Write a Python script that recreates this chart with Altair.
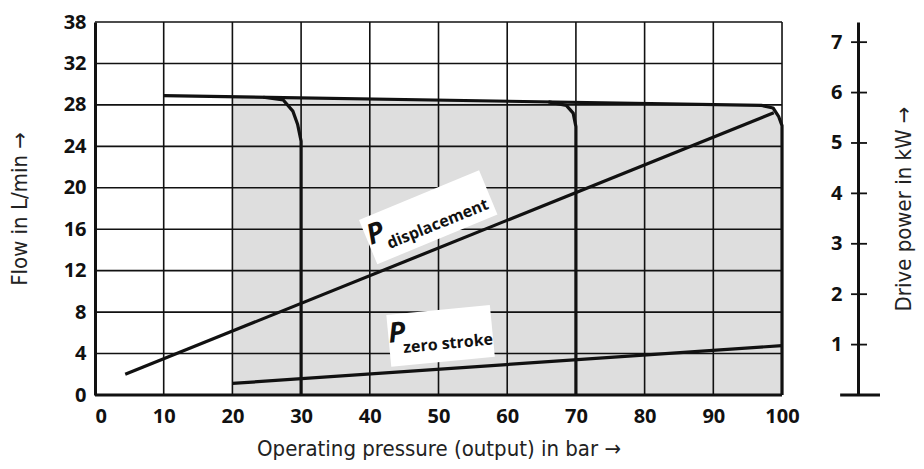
import altair as alt
import pandas as pd

# ---------------- axis ticks ----------------
X_TICKS = [0, 10, 20, 30, 40, 50, 60, 70, 80, 90, 100]
Y_TICK_VALUES = [0, 4, 8, 12, 16, 20, 24, 28, 32, 36]
Y_TICK_LABELS = ["0", "4", "8", "12", "16", "20", "24", "28", "32", "38"]
KW_TICKS = [1, 2, 3, 4, 5, 6, 7]

X_GRID_END = 100
Y_GRID_END = 36
X_DOMAIN_END = 111.06      # where the drive-power axis stands
KW_DOMAIN_END = 7.4

# ---------------- flow characteristic (L/min) ----------------
FLOW_X = [10, 97, 98.7, 99.5, 100, 100]
FLOW_Y = [28.9, 27.95, 27.7, 26.9, 26.0, 0]
CUT30_X = [24.5, 27.4, 28.8, 29.5, 30, 30]
CUT30_Y = [28.74, 28.47, 27.4, 26.1, 24.5, 0]
CUT70_X = [66, 68.6, 69.6, 70, 70]
CUT70_Y = [28.29, 27.95, 27.2, 25.9, 0]
AREA_X = [20, 97, 98.7, 99.5, 100]
AREA_Y = [28.79, 27.95, 27.7, 26.9, 26.0]

# ---------------- drive power (kW) ----------------
PDISP_X = [4.4, 98.8]
PDISP_KW = [0.41, 5.6]
PZERO_X = [20, 100]
PZERO_KW = [0.23, 0.98]

# ---------------- annotations ----------------
P_LABEL_X = [40.9, 43.96]
P_LABEL_Y = [15.5, 5.9]
P_LABEL_ANGLE = [338, 354.5]
SUB_TEXT = ["displacement", "zero stroke"]
SUB_X = [49.9, 51.4]
SUB_Y = [16.5, 4.95]
BOX_X = [48.5, 50.3]
BOX_Y = [17.16, 5.7]

FONT = "Open Sans"
TITLE_FONT = "DejaVu Sans Condensed, Noto Sans"
INK = "#111111"

X_AXIS = alt.Axis(
    values=X_TICKS, grid=False, ticks=False, domain=False, labelPadding=11,
    title="Operating pressure (output) in bar →", titleX=343.5, titleY=60,
    titleBaseline="alphabetic")


def xs():
    return alt.Scale(domain=[0, X_DOMAIN_END], nice=False, zero=False)


def ys():
    return alt.Scale(domain=[0, Y_GRID_END], nice=False)


def ks():
    return alt.Scale(domain=[0, KW_DOMAIN_END], nice=False)


label_expr = "{" + ",".join(f"'{v}':'{l}'" for v, l in zip(Y_TICK_VALUES, Y_TICK_LABELS)) + "}[datum.value]"


def line_df(xv, yv):
    return pd.DataFrame({"x": xv, "y": yv, "i": list(range(len(xv)))})


def XP(f="x"):
    return alt.X(f"{f}:Q", scale=xs(), axis=X_AXIS)


def YP(f="y"):
    return alt.Y(f"{f}:Q", scale=ys(), axis=None)


def KP(f="kw"):
    return alt.Y(f"{f}:Q", scale=ks(), axis=None)


# gray operating area
area_df = line_df(AREA_X, AREA_Y)
area_df["y0"] = 0
area = alt.Chart(area_df).mark_area(color="#dedede", opacity=1).encode(
    x=XP(),
    y=alt.Y("y:Q", scale=ys(), axis=alt.Axis(
        orient="left", values=Y_TICK_VALUES, labelExpr=label_expr, grid=False, ticks=False,
        domain=True, domainWidth=3, domainColor=INK, labelPadding=9,
        title="Flow in L/min →", titleAngle=270, titleX=-69,
        titleBaseline="alphabetic")),
    y2="y0:Q",
)

hgrid = alt.Chart(pd.DataFrame({"y": Y_TICK_VALUES[1:], "x": 0, "x2": X_GRID_END})).mark_rule(
    color=INK, strokeWidth=1.6).encode(y=YP(), x=XP(), x2="x2:Q")
vgrid = alt.Chart(pd.DataFrame({"x": X_TICKS[1:], "y": 0, "y2": Y_GRID_END})).mark_rule(
    color=INK, strokeWidth=1.6).encode(x=XP(), y=YP(), y2="y2:Q")

box_disp = alt.Chart(pd.DataFrame({"x": BOX_X[:1], "y": BOX_Y[:1]})).mark_point(
    shape="M-1,-0.369L1,-0.369L1,0.369L-1,0.369Z", size=16900, angle=337.5,
    filled=True, color="white", opacity=1, strokeWidth=0).encode(x=XP(), y=YP())
box_zero = alt.Chart(pd.DataFrame({"x": BOX_X[1:], "y": BOX_Y[1:]})).mark_point(
    shape="M-1,-0.5L1,-0.5L1,0.5L-1,0.5Z", size=10816, angle=354.5,
    filled=True, color="white", opacity=1, strokeWidth=0).encode(x=XP(), y=YP())


def curve(xv, yv, w=3.2):
    return alt.Chart(line_df(xv, yv)).mark_line(
        color=INK, strokeWidth=w, strokeJoin="round").encode(
        x=XP(), y=YP(), order=alt.Order("i:Q"))


flow = curve(FLOW_X, FLOW_Y)
cut30 = curve(CUT30_X, CUT30_Y)
cut70 = curve(CUT70_X, CUT70_Y)

bottom = alt.Chart(pd.DataFrame({"x": [0], "x2": [X_GRID_END], "y": [0]})).mark_rule(
    color=INK, strokeWidth=3).encode(x=XP(), x2="x2:Q", y=YP())

p_text = alt.Chart(pd.DataFrame({"x": P_LABEL_X, "y": P_LABEL_Y, "a": P_LABEL_ANGLE,
                                 "t": ["P", "P"]})).mark_text(
    font=FONT, fontSize=28, fontStyle="italic", fontWeight="bold", color=INK,
    align="center", baseline="middle").encode(
    x=XP(), y=YP(), text="t:N", angle=alt.Angle("a:Q", scale=None))
sub_text = alt.Chart(pd.DataFrame({"x": SUB_X, "y": SUB_Y, "a": P_LABEL_ANGLE,
                                   "t": SUB_TEXT})).mark_text(
    font=FONT, fontSize=16, fontWeight="bold", color=INK,
    align="center", baseline="middle").encode(
    x=XP(), y=YP(), text="t:N", angle=alt.Angle("a:Q", scale=None))

# ---------- power (right axis) ----------
p_disp = alt.Chart(pd.DataFrame({"x": PDISP_X, "kw": PDISP_KW})).mark_line(
    color=INK, strokeWidth=3.2).encode(
    x=XP(),
    y=alt.Y("kw:Q", scale=ks(), axis=alt.Axis(
        orient="right", values=KW_TICKS, ticks=False, grid=False,
        domain=True, domainWidth=3, domainColor=INK,
        labelAlign="right", labelPadding=-16,
        title="Drive power in kW →", titleAngle=270, titleX=52,
        titleBaseline="alphabetic")))
p_zero = alt.Chart(pd.DataFrame({"x": PZERO_X, "kw": PZERO_KW})).mark_line(
    color=INK, strokeWidth=3.2).encode(x=XP(), y=KP())

kw_ticks = alt.Chart(pd.DataFrame({"kw": KW_TICKS, "x": X_DOMAIN_END + 0.15})).mark_tick(
    orient="horizontal", size=16, thickness=1.8, color=INK, opacity=1).encode(
    y=KP(), x=XP())
kw_base = alt.Chart(pd.DataFrame({"x": [X_DOMAIN_END - 2.6], "x2": [X_DOMAIN_END + 3.2],
                                  "kw": [0]})).mark_rule(
    color=INK, strokeWidth=3).encode(x=XP(), x2="x2:Q", y=KP())

chart = alt.layer(
    area, hgrid, vgrid, box_disp, box_zero, flow, cut30, cut70, bottom,
    p_disp, p_zero, kw_ticks, kw_base, p_text, sub_text,
).resolve_scale(y="independent").properties(
    width=763, height=373,
    autosize=alt.AutoSizeParams(type="none"),
    padding={"left": 87, "top": 14, "right": 58, "bottom": 66},
).configure_view(stroke=None).configure_axis(
    labelFont=FONT, labelFontWeight="bold", labelFontSize=20, labelColor=INK,
    titleFont=TITLE_FONT, titleFontWeight="normal", titleFontSize=22, titleColor="#222222",
)

chart.save("out.html", embed_options={"renderer": "svg", "actions": False})
